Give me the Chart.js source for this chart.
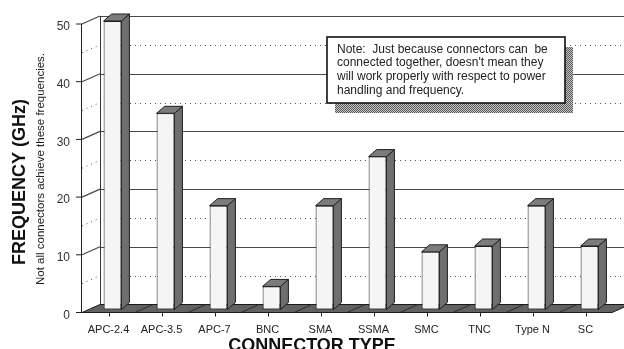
<!DOCTYPE html>
<html><head><meta charset="utf-8">
<script src="https://cdn.jsdelivr.net/npm/chart.js@4/dist/chart.umd.min.js"></script>
<style>html,body{margin:0;padding:0;background:#fff;}#wrap{width:624px;height:349px;}</style>
</head><body><div id="wrap"><canvas id="c" width="624" height="349"></canvas></div>
<script>
// ---- data ----
const categories = ['APC-2.4','APC-3.5','APC-7','BNC','SMA','SSMA','SMC','TNC','Type N','SC'];
const frequencies = [50, 34, 18, 4, 18, 26.5, 10, 11, 18, 11];
const yMin = 0, yMax = 50, yStep = 10, yMinorStep = 5;
const yTitle = 'FREQUENCY (GHz)';
const ySubtitle = 'Not all connectors achieve these frequencies.';
const xTitle = 'CONNECTOR TYPE';
const noteLines = [
  'Note:  Just because connectors can  be',
  'connected together, doesn\'t mean they',
  'will work properly with respect to power',
  'handling and frequency.'
];

// ---- styles ----
const FONT = 'Liberation Sans, Arial, Helvetica, sans-serif';
const WALL = {dx: 18, dy: -8};
const BAR3D = {dx: 8, dy: -7};
const BAR_SHIFT = {dx: 4, dy: -3};
const NOTE = {x: 327, y: 37, w: 238, h: 66, sx: 8, sy: 10};

function shadowPattern(ctx) {
  const c = document.createElement('canvas'); c.width = 2; c.height = 2;
  const p = c.getContext('2d');
  p.fillStyle = '#c4c4c4'; p.fillRect(0, 0, 2, 2);
  p.fillStyle = '#5a5a5a'; p.fillRect(0, 0, 1, 1); p.fillRect(1, 1, 1, 1);
  return ctx.createPattern(c, 'repeat');
}

const scene3D = {
  id: 'scene3D',
  beforeDatasetsDraw(chart) {
    const ctx = chart.ctx, a = chart.chartArea, ys = chart.scales.y, xs = chart.scales.x;
    const W = chart.width;
    const y0 = ys.getPixelForValue(yMin);
    const yTop = ys.getPixelForValue(yMax);
    ctx.save();
    // back wall + side wall grid
    for (let v = yMin + yMinorStep; v <= yMax; v += yMinorStep) {
      const yf = ys.getPixelForValue(v);
      const yb = Math.round(yf + WALL.dy) + 0.5;
      const major = (v % yStep === 0);
      ctx.setLineDash(major ? [] : [1, 4]);
      ctx.strokeStyle = major ? '#4a4a4a' : '#555';
      ctx.lineWidth = major ? 1.2 : 1;
      ctx.beginPath(); ctx.moveTo(a.left + WALL.dx, yb); ctx.lineTo(W, yb); ctx.stroke();
      ctx.beginPath(); ctx.moveTo(a.left, yf); ctx.lineTo(a.left + WALL.dx, yf + WALL.dy); ctx.stroke();
    }
    ctx.setLineDash([]);
    // back corner vertical
    ctx.strokeStyle = '#333'; ctx.lineWidth = 1;
    ctx.beginPath();
    ctx.moveTo(a.left + WALL.dx + 0.5, yTop + WALL.dy);
    ctx.lineTo(a.left + WALL.dx + 0.5, y0 + WALL.dy);
    ctx.stroke();
    // note box
    ctx.fillStyle = shadowPattern(ctx);
    ctx.fillRect(NOTE.x + NOTE.sx, NOTE.y + NOTE.sy, NOTE.w, NOTE.h);
    ctx.fillStyle = '#fff';
    ctx.fillRect(NOTE.x, NOTE.y, NOTE.w, NOTE.h);
    ctx.strokeStyle = '#111'; ctx.lineWidth = 1.6;
    ctx.strokeRect(NOTE.x, NOTE.y, NOTE.w, NOTE.h);
    ctx.fillStyle = '#222';
    ctx.font = '12px ' + FONT;
    ctx.textAlign = 'left'; ctx.textBaseline = 'middle';
    noteLines.forEach((t, i) => ctx.fillText(t, NOTE.x + 10, NOTE.y + 12.5 + i * 13.6));
    // floor
    ctx.fillStyle = '#626262';
    ctx.strokeStyle = '#1a1a1a'; ctx.lineWidth = 1;
    ctx.beginPath();
    ctx.moveTo(a.left, y0); ctx.lineTo(a.right, y0);
    ctx.lineTo(a.right + WALL.dx, y0 + WALL.dy); ctx.lineTo(a.left + WALL.dx, y0 + WALL.dy);
    ctx.closePath(); ctx.fill(); ctx.stroke();
    // floor division lines
    const n = categories.length;
    const cw = (a.right - a.left) / n;
    ctx.strokeStyle = '#2a2a2a';
    for (let k = 1; k < n; k++) {
      const x = a.left + k * cw;
      ctx.beginPath(); ctx.moveTo(x, y0); ctx.lineTo(x + WALL.dx, y0 + WALL.dy); ctx.stroke();
    }
    // x tick marks
    ctx.strokeStyle = '#222';
    for (let i = 0; i < n; i++) {
      const x = Math.round(xs.getPixelForTick(i)) + 0.5;
      ctx.beginPath(); ctx.moveTo(x, y0); ctx.lineTo(x, y0 + 4); ctx.stroke();
    }
    // front y axis + ticks
    ctx.strokeStyle = '#222';
    ctx.beginPath(); ctx.moveTo(a.left - 0.5, yTop); ctx.lineTo(a.left - 0.5, y0); ctx.stroke();
    for (let v = yMin; v <= yMax; v += yStep) {
      const y = ys.getPixelForValue(v);
      ctx.beginPath(); ctx.moveTo(a.left - 6, y); ctx.lineTo(a.left, y); ctx.stroke();
    }
    // titles
    ctx.fillStyle = '#111';
    ctx.textAlign = 'center'; ctx.textBaseline = 'middle';
    ctx.save();
    ctx.translate(20, 182); ctx.rotate(-Math.PI / 2);
    ctx.font = 'bold 18px ' + FONT;
    ctx.fillText(yTitle, 0, 0);
    ctx.restore();
    ctx.save();
    ctx.translate(41, 169); ctx.rotate(-Math.PI / 2);
    ctx.font = '11.5px ' + FONT; ctx.fillStyle = '#222';
    ctx.fillText(ySubtitle, 0, 0);
    ctx.restore();
    ctx.font = 'bold 18px ' + FONT;
    ctx.textBaseline = 'alphabetic';
    ctx.fillText(xTitle, 312, 351);
    ctx.restore();
  },
  beforeDatasetDraw(chart) {
    chart.ctx.save();
    chart.ctx.translate(BAR_SHIFT.dx, BAR_SHIFT.dy);
  },
  afterDatasetDraw(chart, args) {
    const ctx = chart.ctx;
    args.meta.data.forEach(el => {
      const p = el.getProps(['x', 'y', 'base', 'width'], true);
      const l = p.x - p.width / 2, r = p.x + p.width / 2, t = p.y, b = p.base;
      ctx.lineWidth = 1; ctx.strokeStyle = '#1e1e1e';
      ctx.fillStyle = '#6f6f6f';
      ctx.beginPath();
      ctx.moveTo(r, t); ctx.lineTo(r + BAR3D.dx, t + BAR3D.dy);
      ctx.lineTo(r + BAR3D.dx, b + BAR3D.dy); ctx.lineTo(r, b); ctx.closePath();
      ctx.fill(); ctx.stroke();
      ctx.fillStyle = '#7c7c7c';
      ctx.beginPath();
      ctx.moveTo(l, t); ctx.lineTo(l + BAR3D.dx, t + BAR3D.dy);
      ctx.lineTo(r + BAR3D.dx, t + BAR3D.dy); ctx.lineTo(r, t); ctx.closePath();
      ctx.fill(); ctx.stroke();
    });
    ctx.restore();
  }
};

new Chart(document.getElementById('c'), {
  type: 'bar',
  data: {
    labels: categories,
    datasets: [{
      data: frequencies,
      backgroundColor: '#f5f5f5',
      borderColor: '#1e1e1e',
      borderWidth: 1,
      borderSkipped: false,
      barPercentage: 0.336,
      categoryPercentage: 1,
      clip: false
    }]
  },
  options: {
    responsive: false,
    animation: false,
    devicePixelRatio: 1,
    layout: {padding: {top: 24, right: 12, left: 0, bottom: 0}},
    plugins: {legend: {display: false}, tooltip: {enabled: false}, title: {display: false}},
    scales: {
      x: {
        grid: {display: false, drawTicks: false},
        border: {display: false},
        ticks: {font: {family: FONT, size: 11}, color: '#222', padding: 11, maxRotation: 0, autoSkip: false},
        afterFit(s) { s.height = 36.5; }
      },
      y: {
        min: yMin, max: yMax,
        grid: {display: false, drawTicks: false},
        border: {display: false},
        ticks: {stepSize: yStep, font: {family: FONT, size: 12}, color: '#333', padding: 12, labelOffset: 3},
        afterFit(s) { s.width = 82; }
      }
    }
  },
  plugins: [scene3D]
});
</script></body></html>
